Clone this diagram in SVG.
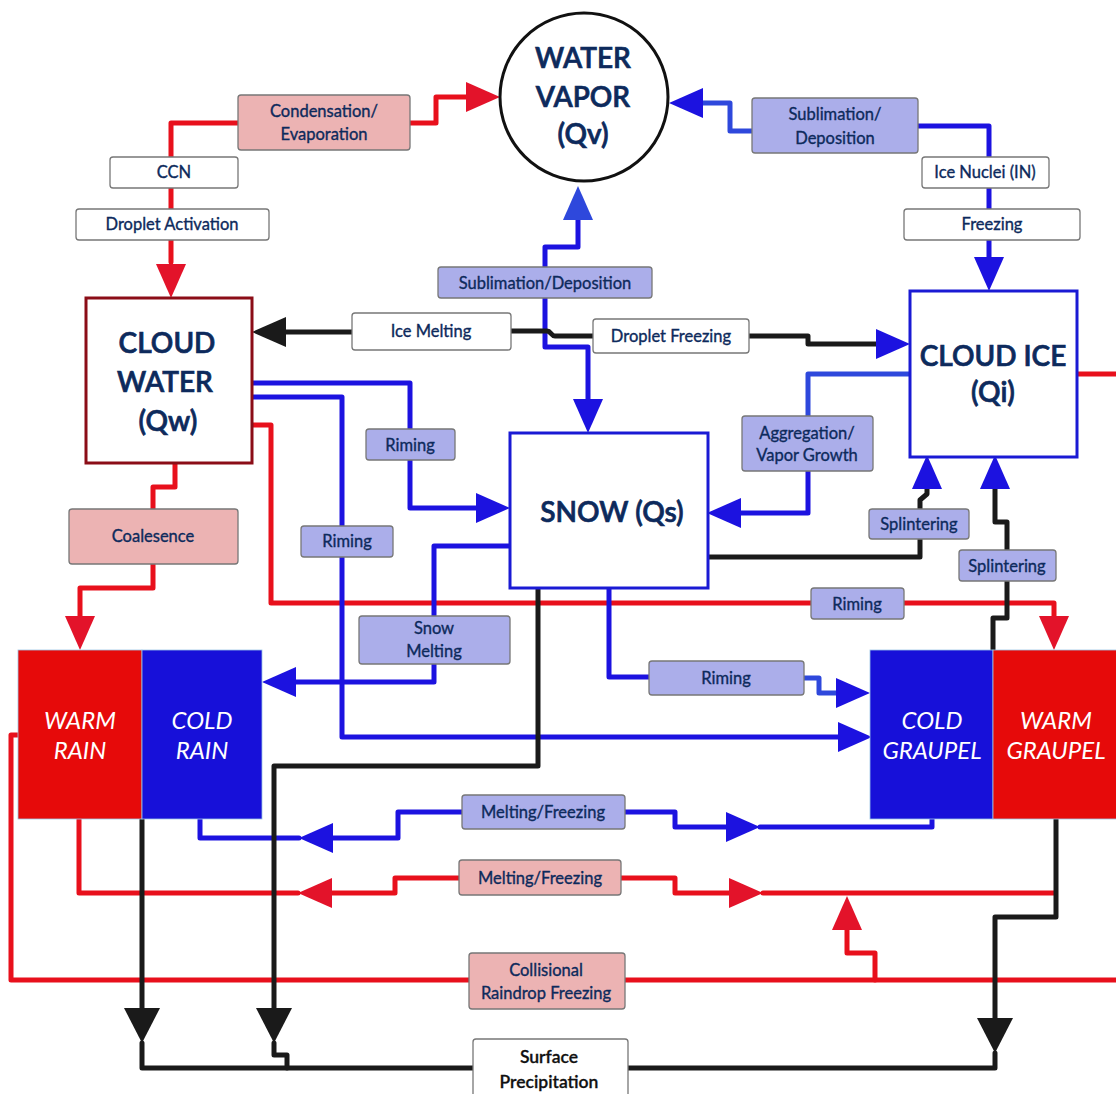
<svg xmlns="http://www.w3.org/2000/svg" xmlns:xlink="http://www.w3.org/1999/xlink" width="1116" height="1094" viewBox="0 0 1116 1094">
<style>
.c{fill:none;stroke-width:5;stroke-linecap:round;stroke-linejoin:round}
.lr{stroke:#e8101c}.lb{stroke:#1c12e0}.ll{stroke:#2e48dc}.lk{stroke:#1a1a1a}
.ar{fill:#e3132a}.ab{fill:#1c12e0}.al{fill:#2e48dc}.ak{fill:#1a1a1a}
.bw{fill:#ffffff;stroke:#777;stroke-width:1.3}
.bp{fill:#ecb3b3;stroke:#777;stroke-width:1.3}
.bl{fill:#abaeea;stroke:#777;stroke-width:1.3}
.t{font-family:Lato,"Liberation Sans",sans-serif;font-size:16.5px;fill:#0d2a5c;stroke:#0d2a5c;stroke-width:0.35;text-anchor:middle}
.n{font-family:Lato,"Liberation Sans",sans-serif;font-size:28px;font-weight:600;fill:#0d2a5c;stroke:#0d2a5c;stroke-width:0.7;text-anchor:middle}
.w{font-family:Lato,"Liberation Sans",sans-serif;font-size:24px;font-style:italic;fill:#ffffff;text-anchor:middle}
.s{font-family:Lato,"Liberation Sans",sans-serif;font-size:17.5px;font-weight:600;fill:#111;stroke:#111;stroke-width:0.3;text-anchor:middle}
</style>
<defs>
<path id="ah" d="M0,0 L-34,-15 L-34,15 Z"/>
<path id="ahb" d="M0,0 L-35,-18 L-35,18 Z"/>
</defs>
<rect width="1116" height="1094" fill="#ffffff"/>

<g id="connectors">
<!-- red -->
<path class="c lr" d="M238,123 H171 V262"/>
<use xlink:href="#ah" class="ar" transform="translate(171,298) rotate(90)"/>
<path class="c lr" d="M410,123 H436 V97 H466"/>
<use xlink:href="#ah" class="ar" transform="translate(500,97)"/>
<path class="c lr" d="M175,463 V487 H153 V509"/>
<path class="c lr" d="M153,564 V588 H80 V616"/>
<use xlink:href="#ah" class="ar" transform="translate(80,650) rotate(90)"/>
<path class="c lr" d="M252,425 H271 V603 H1054 V616"/>
<use xlink:href="#ah" class="ar" transform="translate(1054,650) rotate(90)"/>
<path class="c lr" d="M1077,374 H1118"/>
<path class="c lr" d="M459,878 H395 V893 H330"/>
<use xlink:href="#ah" class="ar" transform="translate(298,893) rotate(180)"/>
<path class="c lr" d="M298,893 H79 V819"/>
<path class="c lr" d="M621,878 H675 V893 H731"/>
<use xlink:href="#ah" class="ar" transform="translate(763,893)"/>
<path class="c lr" d="M763,893 H1055"/>
<path class="c lr" d="M470,980 H11 V735 H18"/>
<path class="c lr" d="M625,980 H1118"/>
<path class="c lr" d="M875,980 V953 H847 V929"/>
<use xlink:href="#ah" class="ar" transform="translate(847,896) rotate(-90)"/>
<!-- blue -->
<path class="c lb" d="M917,126 H989 V257"/>
<use xlink:href="#ah" class="ab" transform="translate(989,291) rotate(90)"/>
<path class="c ll" d="M752,131 H730 V103 H703"/>
<use xlink:href="#ah" class="ab" transform="translate(669,103) rotate(180)"/>
<path class="c lb" d="M545,267 V247 H578 V220"/>
<use xlink:href="#ah" class="al" transform="translate(578,186) rotate(-90)"/>
<path class="c lb" d="M545,298 V347 H588 V399"/>
<use xlink:href="#ah" class="ab" transform="translate(588,433) rotate(90)"/>
<path class="c lb" d="M252,383 H410 V429 M410,460 V508 H478"/>
<use xlink:href="#ah" class="ab" transform="translate(510,508)"/>
<path class="c lb" d="M252,397 H342 V526 M342,557 V737 H840"/>
<use xlink:href="#ah" class="ab" transform="translate(872,737)"/>
<path class="c lb" d="M510,546 H434 V616 M434,664 V682 H294"/>
<use xlink:href="#ah" class="ab" transform="translate(262,682) rotate(180)"/>
<path class="c lb" d="M609,588 V677 H649"/>
<path class="c ll" d="M804,678 H819 V693 H836"/>
<use xlink:href="#ah" class="ab" transform="translate(870,693)"/>
<path class="c lb" d="M462,812 H398 V838 H331"/>
<use xlink:href="#ah" class="ab" transform="translate(299,838) rotate(180)"/>
<path class="c lb" d="M299,838 H200 V819"/>
<path class="c lb" d="M625,812 H675 V827 H727"/>
<use xlink:href="#ah" class="ab" transform="translate(760,827)"/>
<path class="c lb" d="M760,827 H932 V819"/>
<path class="c ll" d="M910,374 H808 V416"/>
<path class="c lb" d="M808,471 V513 H738"/>
<use xlink:href="#ah" class="ab" transform="translate(707,513) rotate(180)"/>
<!-- black -->
<path class="c lk" d="M352,332 H286"/>
<use xlink:href="#ah" class="ak" transform="translate(252,332) rotate(180)"/>
<path class="c lk" d="M511,331 H547 C551,331 551,336 555,336 H594"/>
<path class="c lk" d="M749,336 H808 V344 H877"/>
<use xlink:href="#ah" class="ab" transform="translate(910,344)"/>
<path class="c lk" d="M708,557 H920 V539 M920,509 V500 L927,494 V489"/>
<use xlink:href="#ah" class="ab" transform="translate(927,455) rotate(-90)"/>
<path class="c lk" d="M993,650 V618 H1007 V581 M1007,550 V522 H995 V489"/>
<use xlink:href="#ah" class="ab" transform="translate(995,455) rotate(-90)"/>
<path class="c lk" d="M538,588 V766 H274 V1010"/>
<use xlink:href="#ahb" class="ak" transform="translate(274,1043) rotate(90)"/>
<path class="c lk" d="M274,1043 V1055 H287 V1068"/>
<path class="c lk" d="M142,819 V1010"/>
<use xlink:href="#ahb" class="ak" transform="translate(142,1043) rotate(90)"/>
<path class="c lk" d="M142,1043 V1068 H473"/>
<path class="c lk" d="M1056,819 V917 H995 V1020"/>
<use xlink:href="#ahb" class="ak" transform="translate(995,1053) rotate(90)"/>
<path class="c lk" d="M995,1053 V1068 H628"/>
</g>

<g id="water-vapor">
<circle cx="584" cy="97" r="84" fill="#ffffff" stroke="#111" stroke-width="3"/>
<text class="n" x="583" y="68">WATER</text>
<text class="n" x="583" y="107">VAPOR</text>
<text class="n" x="583" y="144">(Qv)</text>
</g>
<g id="cloud-water">
<rect x="86" y="298" width="166" height="165" fill="#ffffff" stroke="#8b0d17" stroke-width="3"/>
<text class="n" x="167" y="353">CLOUD</text>
<text class="n" x="165" y="392">WATER</text>
<text class="n" x="168" y="431">(Qw)</text>
</g>
<g id="cloud-ice">
<rect x="910" y="291" width="167" height="166" fill="#ffffff" stroke="#1a1ad4" stroke-width="3"/>
<text class="n" x="993" y="366">CLOUD ICE</text>
<text class="n" x="993" y="402">(Qi)</text>
</g>
<g id="snow">
<rect x="510" y="433" width="198" height="155" fill="#ffffff" stroke="#1a1ad4" stroke-width="3"/>
<text class="n" x="612" y="522">SNOW (Qs)</text>
</g>
<g id="warm-rain">
<rect x="18" y="650" width="124" height="169" fill="#e60a0a" stroke="#9cc6e6" stroke-width="0.8"/>
<text class="w" x="80" y="729">WARM</text>
<text class="w" x="80" y="759">RAIN</text>
</g>
<g id="cold-rain">
<rect x="142" y="650" width="120" height="169" fill="#1710d9" stroke="#9cc6e6" stroke-width="0.8"/>
<text class="w" x="202" y="729">COLD</text>
<text class="w" x="202" y="759">RAIN</text>
</g>
<g id="cold-graupel">
<rect x="870" y="650" width="123" height="169" fill="#1710d9" stroke="#9cc6e6" stroke-width="0.8"/>
<text class="w" x="932" y="729">COLD</text>
<text class="w" x="932" y="759">GRAUPEL</text>
</g>
<g id="warm-graupel">
<rect x="993" y="650" width="130" height="169" fill="#e60a0a" stroke="#9cc6e6" stroke-width="0.8"/>
<text class="w" x="1056" y="729">WARM</text>
<text class="w" x="1056" y="759">GRAUPEL</text>
</g>

<g id="lbl-condensation"><rect class="bp" x="238" y="95" width="172" height="55" rx="3"/><text class="t" x="324" y="117">Condensation/</text><text class="t" x="324" y="140">Evaporation</text></g>
<g id="lbl-ccn"><rect class="bw" x="110" y="157" width="128" height="31" rx="3"/><text class="t" x="174" y="178">CCN</text></g>
<g id="lbl-activation"><rect class="bw" x="76" y="209" width="193" height="31" rx="3"/><text class="t" x="172" y="230">Droplet Activation</text></g>
<g id="lbl-sublimation-top"><rect class="bl" x="752" y="98" width="166" height="55" rx="3"/><text class="t" x="835" y="120">Sublimation/</text><text class="t" x="835" y="144">Deposition</text></g>
<g id="lbl-ice-nuclei"><rect class="bw" x="922" y="157" width="127" height="31" rx="3"/><text class="t" x="985" y="178">Ice Nuclei (IN)</text></g>
<g id="lbl-freezing"><rect class="bw" x="904" y="209" width="176" height="31" rx="3"/><text class="t" x="992" y="230">Freezing</text></g>
<g id="lbl-sublimation-mid"><rect class="bl" x="438" y="267" width="214" height="31" rx="3"/><text class="t" x="545" y="289">Sublimation/Deposition</text></g>
<g id="lbl-ice-melting"><rect class="bw" x="352" y="313" width="159" height="37" rx="3"/><text class="t" x="431" y="337">Ice Melting</text></g>
<g id="lbl-droplet-freezing"><rect class="bw" x="593" y="319" width="156" height="34" rx="3"/><text class="t" x="671" y="342">Droplet Freezing</text></g>
<g id="lbl-riming-1"><rect class="bl" x="366" y="429" width="89" height="31" rx="3"/><text class="t" x="410" y="451">Riming</text></g>
<g id="lbl-riming-2"><rect class="bl" x="301" y="526" width="92" height="31" rx="3"/><text class="t" x="347" y="547">Riming</text></g>
<g id="lbl-aggregation"><rect class="bl" x="742" y="416" width="131" height="55" rx="3"/><text class="t" x="807" y="439">Aggregation/</text><text class="t" x="807" y="461">Vapor Growth</text></g>
<g id="lbl-coalesence"><rect class="bp" x="69" y="509" width="169" height="55" rx="3"/><text class="t" x="153" y="542">Coalesence</text></g>
<g id="lbl-splintering-1"><rect class="bl" x="869" y="509" width="100" height="30" rx="3"/><text class="t" x="919" y="530">Splintering</text></g>
<g id="lbl-splintering-2"><rect class="bl" x="959" y="550" width="97" height="31" rx="3"/><text class="t" x="1007" y="572">Splintering</text></g>
<g id="lbl-riming-3"><rect class="bl" x="811" y="588" width="93" height="31" rx="3"/><text class="t" x="857" y="610">Riming</text></g>
<g id="lbl-snow-melting"><rect class="bl" x="359" y="616" width="151" height="48" rx="3"/><text class="t" x="434" y="634">Snow</text><text class="t" x="434" y="657">Melting</text></g>
<g id="lbl-riming-4"><rect class="bl" x="649" y="661" width="155" height="34" rx="3"/><text class="t" x="726" y="684">Riming</text></g>
<g id="lbl-melt-freeze-blue"><rect class="bl" x="462" y="795" width="163" height="34" rx="3"/><text class="t" x="543" y="818">Melting/Freezing</text></g>
<g id="lbl-melt-freeze-red"><rect class="bp" x="459" y="860" width="162" height="35" rx="3"/><text class="t" x="540" y="884">Melting/Freezing</text></g>
<g id="lbl-collisional"><rect class="bp" x="469" y="953" width="156" height="56" rx="3"/><text class="t" x="546" y="976">Collisional</text><text class="t" x="546" y="999">Raindrop Freezing</text></g>
<g id="surface-precipitation"><rect class="bw" x="473" y="1039" width="155" height="62" rx="3"/><text class="s" x="549" y="1063">Surface</text><text class="s" x="549" y="1088">Precipitation</text></g>
</svg>
